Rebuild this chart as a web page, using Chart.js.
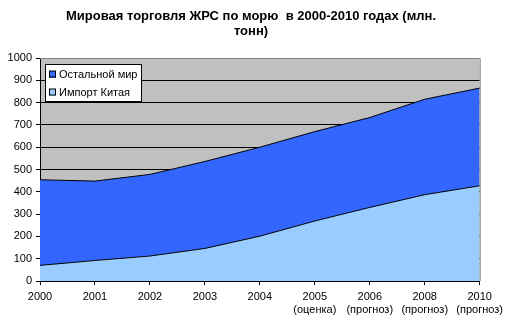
<!DOCTYPE html>
<html>
<head>
<meta charset="utf-8">
<script src="https://cdn.jsdelivr.net/npm/chart.js@4.4.1/dist/chart.umd.min.js"></script>
<style>
  html, body { margin: 0; padding: 0; background: #ffffff; }
  #wrap { width: 508px; height: 325px; position: relative; }
</style>
</head>
<body>
<div id="wrap"><canvas id="c" width="508" height="325"></canvas></div>
<script>
// Годы и пометки под ними
const years = ['2000', '2001', '2002', '2003', '2004', '2005', '2006', '2008', '2010'];
const yearNotes = ['', '', '', '', '', '(оценка)', '(прогноз)', '(прогноз)', '(прогноз)'];

// Объёмы, млн. тонн
const chinaImport = [70, 92, 112, 146, 201, 269, 330, 387, 427];
const restOfWorld = [384, 356, 366, 390, 399, 401, 403, 428, 438];

// Шкала Y
const yMin = 0, yMax = 1000, yStep = 100;

const titleLines = ['Мировая торговля ЖРС по морю  в 2000-2010 годах (млн.', 'тонн)'];
const seriesNames = ['Импорт Китая', 'Остальной мир'];

const FONT = '"Liberation Sans", Arial, sans-serif';
const labels = years.map((y, i) => yearNotes[i] ? [y, yearNotes[i]] : y);

// Серый фон области построения и рамка сверху/справа
const plotBg = {
  id: 'plotBg',
  beforeDraw(chart) {
    const { ctx, chartArea: a } = chart;
    ctx.save();
    ctx.fillStyle = '#c0c0c0';
    ctx.fillRect(a.left, a.top, a.right - a.left, a.bottom - a.top);
    ctx.restore();
  },
  afterDatasetsDraw(chart) {
    const { ctx, chartArea: a } = chart;
    ctx.save();
    ctx.strokeStyle = '#808080';
    ctx.lineWidth = 1;
    ctx.beginPath();
    ctx.moveTo(a.left, a.top + 0.5);
    ctx.lineTo(a.right + 0.5, a.top + 0.5);
    ctx.lineTo(a.right + 0.5, a.bottom);
    ctx.stroke();
    ctx.restore();
  }
};

// Заголовок в две строки
const titlePlugin = {
  id: 'titleLines',
  afterDraw(chart) {
    const { ctx } = chart;
    ctx.save();
    ctx.fillStyle = '#000';
    ctx.font = 'bold 13px ' + FONT;
    ctx.textAlign = 'center';
    ctx.textBaseline = 'alphabetic';
    ctx.fillText(titleLines[0], 251, 20);
    ctx.fillText(titleLines[1], 251, 35);
    ctx.restore();
  }
};

// Легенда в рамке внутри области построения
const boxLegend = {
  id: 'boxLegend',
  afterDraw(chart) {
    const { ctx, chartArea: a } = chart;
    const x = a.left + 5, y = a.top + 6, w = 97, h = 38;
    ctx.save();
    ctx.fillStyle = '#ffffff';
    ctx.fillRect(x, y, w, h);
    ctx.strokeStyle = '#000';
    ctx.lineWidth = 1;
    ctx.strokeRect(x + 0.5, y + 0.5, w - 1, h - 1);
    const order = [1, 0];
    ctx.font = '11px ' + FONT;
    ctx.textBaseline = 'middle';
    ctx.textAlign = 'left';
    order.forEach((di, row) => {
      const ds = chart.data.datasets[di];
      const cy = y + 10.5 + row * 18;
      ctx.fillStyle = ds.backgroundColor;
      ctx.fillRect(x + 4, cy - 3.5, 7, 7);
      ctx.strokeStyle = '#000';
      ctx.strokeRect(x + 4.5, cy - 3.5, 6, 6);
      ctx.fillStyle = '#000';
      ctx.fillText(ds.label, x + 14, cy);
    });
    ctx.restore();
  }
};

new Chart(document.getElementById('c'), {
  type: 'line',
  data: {
    labels,
    datasets: [
      {
        label: seriesNames[0],
        data: chinaImport,
        backgroundColor: '#99ccff',
        borderColor: '#000000',
        borderWidth: 1,
        fill: 'origin',
        pointRadius: 0,
        tension: 0
      },
      {
        label: seriesNames[1],
        data: restOfWorld,
        backgroundColor: '#3366ff',
        borderColor: '#000000',
        borderWidth: 1,
        fill: '-1',
        pointRadius: 0,
        tension: 0
      }
    ]
  },
  options: {
    responsive: false,
    animation: false,
    devicePixelRatio: 1,
    layout: { padding: { top: 58, right: 27, left: 0, bottom: 0 } },
    plugins: {
      legend: { display: false },
      title: { display: false },
      tooltip: { enabled: false },
      filler: { drawTime: 'beforeDatasetsDraw' }
    },
    scales: {
      x: {
        offset: false,
        grid: { drawOnChartArea: false, drawTicks: true, tickLength: 4, color: '#000' },
        border: { color: '#000', width: 1 },
        ticks: { color: '#000', font: { family: FONT, size: 11 }, padding: 5, maxRotation: 0, autoSkip: false },
        afterFit(s) { s.height = 44; }
      },
      y: {
        stacked: true,
        min: yMin,
        max: yMax,
        grid: { color: '#000', tickLength: 4, drawTicks: true },
        border: { color: '#000', width: 1 },
        ticks: {
          stepSize: yStep,
          color: '#000',
          font: { family: FONT, size: 11 },
          padding: 4,
          callback: (v) => String(v)
        },
        afterFit(s) { s.width = 40; }
      }
    }
  },
  plugins: [plotBg, titlePlugin, boxLegend]
});
</script>
</body>
</html>
